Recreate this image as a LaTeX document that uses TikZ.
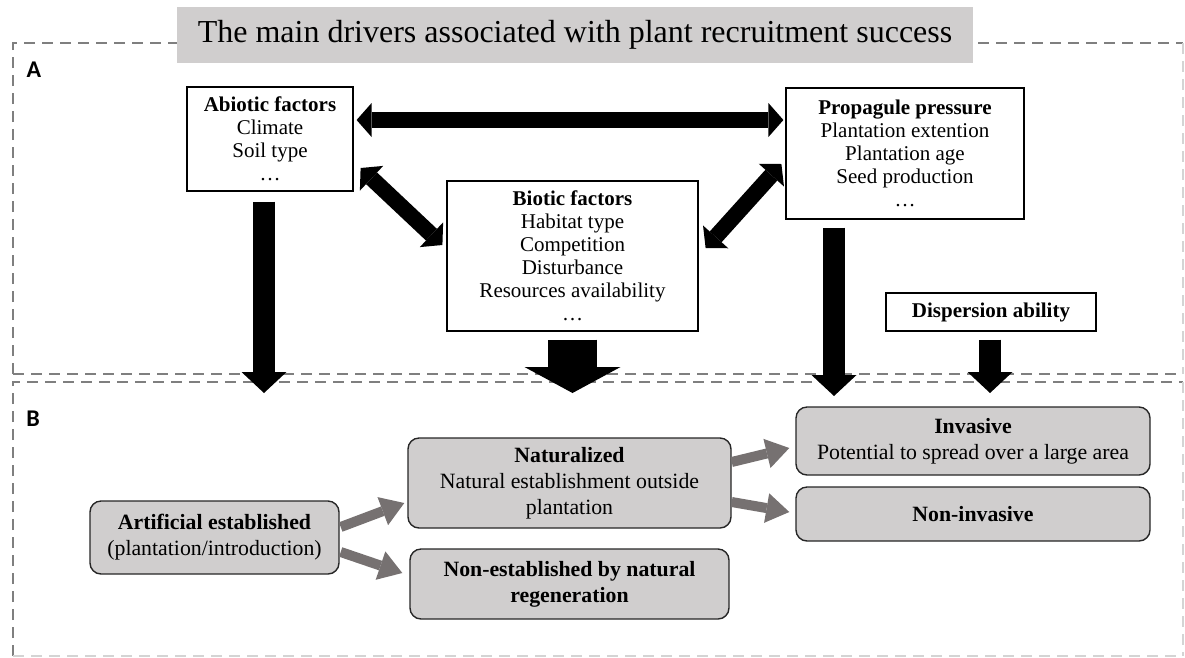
\documentclass[tikz,border=0pt]{standalone}
\usepackage{fontspec}
\setmainfont{Liberation Serif}
\newfontfamily\panelfont{Carlito}
\usetikzlibrary{arrows.meta,calc}

\definecolor{boxgray}{HTML}{D0CECE}
\definecolor{arrowgray}{HTML}{767171}
\definecolor{framegray}{HTML}{7F7F7F}
\definecolor{edgegray}{HTML}{D4D4D4}

\begin{document}
\begin{tikzpicture}[x=1pt,y=-1pt,
  factorbox/.style={draw=black, line width=1.2pt, fill=white, align=center,
    inner sep=0pt, font=\fontsize{21}{23}\selectfont},
  stagebox/.style={draw=black!85, line width=1.4pt, fill=boxgray,
    rounded corners=11pt, align=center, inner sep=0pt,
    font=\fontsize{21.8}{26}\selectfont},
  framedash/.style={draw=framegray, line width=2.5pt, dash pattern=on 11pt off 7pt},
  frameedge/.style={framedash, draw=edgegray},
  panellabel/.style={font=\panelfont\bfseries\fontsize{24}{28}\selectfont, inner sep=0pt},
  bigarrow/.style={line width=22pt,
    -{Triangle[width=45pt,length=21pt,line width=0pt]}},
  widearrow/.style={line width=49pt,
    -{Triangle[width=96pt,length=26pt,line width=0pt]}},
  linkarrow/.style={line width=16pt,
    {Triangle[width=34pt,length=15pt,line width=0pt]}-{Triangle[width=34pt,length=15pt,line width=0pt]}},
  stagearrow/.style={draw=arrowgray, line width=10pt,
    -{Triangle[width=30pt,length=23pt,line width=0pt]}},
]
\useasboundingbox (0,0) rectangle (1185,657);

% dashed panel frames
\draw[framedash] (13,374) -- (13,43) -- (1183,43);
\draw[framedash] (13,374) -- (1183,374);
\draw[frameedge] (1183,43) -- (1183,374);
\draw[framedash] (13,656) -- (13,382) -- (1183,382);
\draw[frameedge] (1183,382) -- (1183,656);
\draw[frameedge] (13,656) -- (1183,656);

% title
\node[fill=boxgray, minimum width=796pt, minimum height=56pt, inner sep=0pt,
  font=\fontsize{32}{36}\selectfont] (title) at (575,35)
  {The main drivers associated with plant recruitment success};

\node[panellabel] (labA) at (34,70) {A};
\node[panellabel] (labB) at (33,419) {B};

% panel A: drivers
\node[factorbox, minimum width=166pt, minimum height=104pt] (abiotic) at (270,139)
  {\textbf{Abiotic factors}\\Climate\\Soil type\\…};
\node[factorbox, minimum width=238pt, minimum height=131pt] (propagule) at (905,153.5)
  {\textbf{Propagule pressure}\\Plantation extention\\Plantation age\\Seed production\\…};
\node[factorbox, minimum width=251pt, minimum height=150pt] (biotic) at (572.5,256)
  {\textbf{Biotic factors}\\Habitat type\\Competition\\Disturbance\\Resources availability\\…};
\node[factorbox, minimum width=210pt, minimum height=38pt] (dispersion) at (991,312)
  {\textbf{Dispersion ability}};

% panel B: recruitment stages
\node[stagebox, minimum width=249pt, minimum height=73pt] (artificial) at (214.5,537.5)
  {\textbf{Artificial established}\\(plantation/introduction)};
\node[stagebox, minimum width=323pt, minimum height=90pt] (naturalized) at (569.5,483)
  {\textbf{Naturalized}\\Natural establishment outside\\plantation};
\node[stagebox, minimum width=319pt, minimum height=70pt] (nonestab) at (569.5,584)
  {\textbf{Non-established by natural}\\\textbf{regeneration}};
\node[stagebox, minimum width=354pt, minimum height=68pt] (invasive) at (973,441)
  {\textbf{Invasive}\\Potential to spread over a large area};
\node[stagebox, minimum width=354pt, minimum height=54pt] (noninvasive) at (973,514)
  {\textbf{Non-invasive}};

% free ends of the driver arrows
\coordinate (abioticEnd) at (264,393);
\coordinate (bioticEnd) at (572.5,393);
\coordinate (propaguleEnd) at (834,396);
\coordinate (dispersionEnd) at (990,393);

% interactions between drivers
\draw[linkarrow] ($(abiotic.east)+(3,-19)$) -- ($(propagule.west)+(-2,-33.5)$);
\draw[linkarrow] ($(abiotic.east)+(7,29)$) -- ($(biotic.west)+(-4,-11)$);
\draw[linkarrow] ($(propagule.west)+(-4,10.5)$) -- ($(biotic.east)+(7,-8)$);

% drivers acting on recruitment
\draw[bigarrow] (abiotic.south -| abioticEnd) ++(0,10) -- (abioticEnd);
\draw[widearrow] ($(biotic.south)+(0,8)$) -- (bioticEnd);
\draw[bigarrow] (propagule.south -| propaguleEnd) ++(0,8) -- (propaguleEnd);
\draw[bigarrow] (dispersion.south -| dispersionEnd) ++(0,8) -- (dispersionEnd);

% stage transitions
\draw[stagearrow] ($(artificial.east)+(1,-10.5)$) -- ($(naturalized.west)+(-3,20)$);
\draw[stagearrow] ($(artificial.east)+(1,14.5)$) -- ($(nonestab.west)+(-7,-11)$);
\draw[stagearrow] ($(naturalized.east)+(0,-21)$) -- ($(invasive.west)+(-6,7)$);
\draw[stagearrow] ($(naturalized.east)+(0,19)$) -- ($(noninvasive.west)+(-6,-2)$);
\end{tikzpicture}
\end{document}
